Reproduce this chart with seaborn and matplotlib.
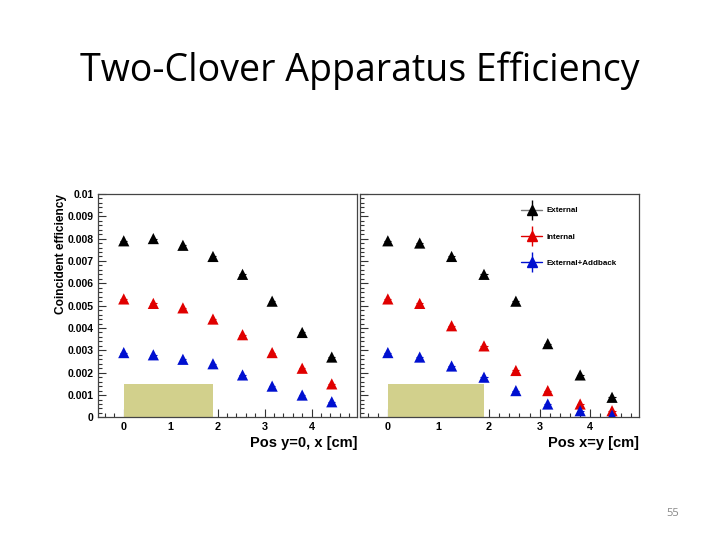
import matplotlib
matplotlib.use("Agg")
import matplotlib.pyplot as plt
from matplotlib.lines import Line2D
from matplotlib.ticker import MultipleLocator, FixedLocator, FixedFormatter
import seaborn as sns
import pandas as pd

# positions along the scan (cm)
pos = [0.0, 0.63, 1.26, 1.9, 2.53, 3.16, 3.8, 4.43]

# scan along y=0, x
ext_x = [0.0079, 0.0080, 0.0077, 0.0072, 0.0064, 0.0052, 0.0038, 0.0027]
int_x = [0.0053, 0.0051, 0.0049, 0.0044, 0.0037, 0.0029, 0.0022, 0.0015]
add_x = [0.0029, 0.0028, 0.0026, 0.0024, 0.0019, 0.0014, 0.0010, 0.0007]

# scan along x=y
ext_d = [0.0079, 0.0078, 0.0072, 0.0064, 0.0052, 0.0033, 0.0019, 0.0009]
int_d = [0.0053, 0.0051, 0.0041, 0.0032, 0.0021, 0.0012, 0.0006, 0.0003]
add_d = [0.0029, 0.0027, 0.0023, 0.0018, 0.0012, 0.0006, 0.0003, 0.0001]

series = ["External", "Internal", "External+Addback"]
colors = ["black", "#e00000", "#0010d0"]
y_ticks = [0, 0.001, 0.002, 0.003, 0.004, 0.005, 0.006, 0.007, 0.008, 0.009, 0.01]
y_labels = ["0", "0.001", "0.002", "0.003", "0.004", "0.005", "0.006", "0.007", "0.008", "0.009", "0.01"]
# crystal extent box
box_x = [0.0, 1.9]
box_h = 0.0015


def long_df(e, i, a):
    rows = []
    for name, vals in zip(series, [e, i, a]):
        for p, v in zip(pos, vals):
            rows.append({"pos": p, "eff": v, "series": name})
    return pd.DataFrame(rows)


sns.set_style("ticks")
plt.rcParams["font.family"] = ["Liberation Sans", "DejaVu Sans"]
plt.rcParams["text.color"] = "black"
plt.rcParams["axes.labelcolor"] = "black"
plt.rcParams["xtick.labelcolor"] = "black"
plt.rcParams["ytick.labelcolor"] = "black"

fig = plt.figure(figsize=(7.2, 5.4), dpi=100)
ax1 = fig.add_axes([0.136, 0.227, 0.360, 0.414])
ax2 = fig.add_axes([0.500, 0.227, 0.388, 0.414])

pal = dict(zip(series, colors))
for ax, df in [(ax1, long_df(ext_x, int_x, add_x)), (ax2, long_df(ext_d, int_d, add_d))]:
    ax.fill_between(box_x, 0, box_h, color="#d2d08c", lw=0, zorder=1)
    # tiny error bars around each point
    for name, c in zip(series, colors):
        sub = df[df["series"] == name]
        ax.errorbar(sub["pos"], sub["eff"], xerr=0.07, yerr=0.00008, fmt="none",
                    ecolor=c, elinewidth=0.8, zorder=2)
    sns.scatterplot(data=df, x="pos", y="eff", hue="series", palette=pal,
                    marker="^", s=65, edgecolor="none", legend=False, ax=ax, zorder=3)
    ax.set_xlim(-0.55, 4.97)
    ax.set_ylim(0, 0.01)
    ax.xaxis.set_major_locator(MultipleLocator(1))
    ax.xaxis.set_minor_locator(MultipleLocator(0.2))
    ax.yaxis.set_major_locator(FixedLocator(y_ticks))
    ax.yaxis.set_minor_locator(MultipleLocator(0.0002))
    ax.tick_params(which="both", direction="in", color="#333333", width=0.8)
    ax.tick_params(which="major", length=6)
    ax.tick_params(which="minor", length=3)
    ax.tick_params(axis="x", labelsize=7.8, pad=3)
    ax.tick_params(axis="y", labelsize=7.5, pad=3)
    for sp in ax.spines.values():
        sp.set_visible(True)
        sp.set_color("#444444")
        sp.set_linewidth(0.9)
    ax.set_ylabel("")
    ax.set_xlabel("")

ax1.yaxis.set_major_formatter(FixedFormatter(y_labels))
for lab in ax1.get_yticklabels():
    lab.set_fontweight("bold")
ax2.set_yticklabels([])
for lab in ax1.get_xticklabels() + ax2.get_xticklabels():
    lab.set_fontweight("bold")

ax1.set_ylabel("Coincident efficiency", fontsize=8.6, fontweight="bold")
ax1.yaxis.set_label_coords(-0.118, 1.0)
ax1.yaxis.label.set_horizontalalignment("right")
ax1.set_xlabel("Pos y=0, x [cm]", fontsize=10.5, fontweight="bold")
ax1.xaxis.set_label_coords(1.0, -0.085)
ax1.xaxis.label.set_horizontalalignment("right")
ax2.set_xlabel("Pos x=y [cm]", fontsize=10.5, fontweight="bold")
ax2.xaxis.set_label_coords(1.0, -0.085)
ax2.xaxis.label.set_horizontalalignment("right")

# legend handles: marker with error-bar cross
handles = []
for name, c in zip(series, colors):
    lc = c if c != "black" else "#777777"
    hbar = Line2D([], [], color=lc, lw=1, marker="^", ms=7, mfc=c, mec=c)
    vbar = Line2D([], [], color=c, ls="none", marker="|", ms=14, mew=1)
    handles.append((vbar, hbar))
leg = ax2.legend(handles=handles, labels=series, loc="upper left",
                 bbox_to_anchor=(0.575, 0.942),
                 frameon=False, prop={"size": 5.8, "weight": "bold"},
                 labelspacing=2.3, handlelength=2.7, handletextpad=0.45,
                 borderaxespad=0, borderpad=0)

fig.text(0.5, 0.87, "Two-Clover Apparatus Efficiency", ha="center", va="center",
         fontsize=27, family=["Open Sans", "DejaVu Sans"])
fig.text(0.935, 0.05, "55", ha="center", va="center", fontsize=8, color="#888888",
         family=["Open Sans", "DejaVu Sans"])

fig.savefig("out.png", dpi=100)
